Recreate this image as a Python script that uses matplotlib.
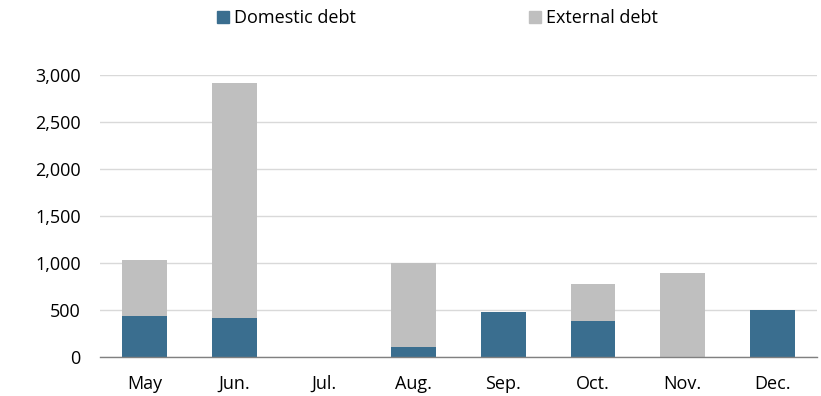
import matplotlib
matplotlib.use("Agg")
import matplotlib.pyplot as plt
from matplotlib.patches import Patch
import numpy as np

plt.rcParams["font.family"] = ["Open Sans", "DejaVu Sans"]

# Data
months   = ["May", "Jun.", "Jul.", "Aug.", "Sep.", "Oct.", "Nov.", "Dec."]
domestic = [436, 415, 0, 103, 482, 379, 0, 500]
external = [597, 2500, 0, 900, 0, 398, 897, 0]
yticks   = [0, 500, 1000, 1500, 2000, 2500, 3000]

BLUE = "#3A6E8F"
GREY = "#BFBFBF"
FS = 13

fig = plt.figure(figsize=(8.21, 3.96), dpi=100)
ax = fig.add_axes([0.1218, 0.0985, 0.9951 - 0.1218, 0.8106 - 0.0985])

x = np.arange(len(months))
ax.bar(x, domestic, width=0.5, color=BLUE, zorder=3)
ax.bar(x, external, width=0.5, bottom=domestic, color=GREY, zorder=3)

ax.set_xlim(-0.5, len(months) - 0.5)
ax.set_ylim(0, 3000)
ax.set_yticks(yticks)
ax.set_yticklabels([f"{v:,}" for v in yticks], fontsize=FS)
ax.set_xticks(x)
ax.set_xticklabels(months, fontsize=FS)
ax.tick_params(axis="both", length=0)
ax.tick_params(axis="y", pad=14)
ax.tick_params(axis="x", pad=13)

ax.grid(axis="y", color="#D9D9D9", lw=1.0, zorder=0)
for side in ["top", "right", "left"]:
    ax.spines[side].set_visible(False)
ax.spines["bottom"].set_color("#808080")
ax.spines["bottom"].set_linewidth(1.0)
ax.spines["bottom"].set_zorder(4)

handles = [Patch(color=BLUE, label="Domestic debt"),
           Patch(color=GREY, label="External debt")]
fig.legend(handles=handles, loc="center", bbox_to_anchor=(0.533, 0.954),
           ncol=2, frameon=False, fontsize=FS, handlelength=0.66,
           handleheight=0.66, handletextpad=0.28, columnspacing=9.6,
           borderpad=0)

fig.savefig("out.png", dpi=100)
